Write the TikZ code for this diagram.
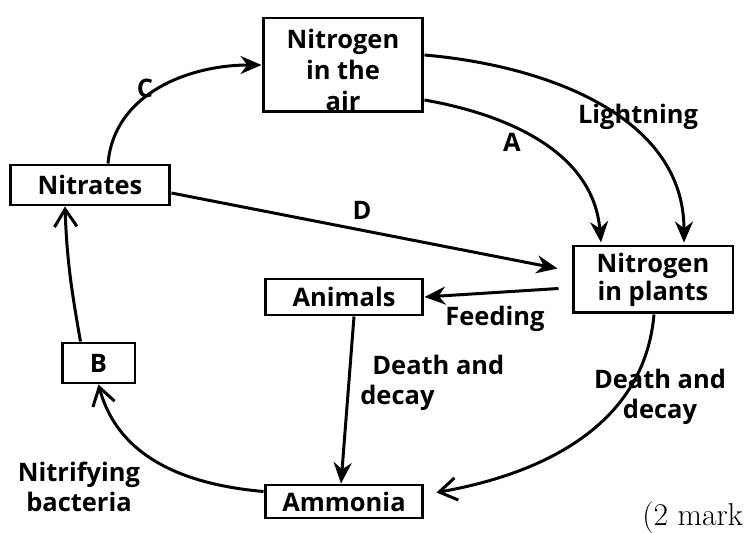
\documentclass[tikz,border=0pt]{standalone}
\usepackage{fontspec}
\newfontfamily\cyclefont{Open Sans}
\usepackage{tikz}
\usetikzlibrary{positioning, arrows.meta, calc}

\begin{document}
\begin{tikzpicture}[x=0.02cm, y=-0.02cm,
    box/.style={rectangle, draw, line width=1.7pt, inner sep=0pt, align=center,
        font=\cyclefont\bfseries\fontsize{14.5}{16}\selectfont},
    lbl/.style={align=center, inner sep=0pt,
        font=\cyclefont\bfseries\fontsize{14.5}{17}\selectfont},
    flow/.style={line width=1.7pt, -{Stealth[length=4.2mm, width=3.6mm]}},
    open/.style={line width=1.7pt, -{Straight Barb[length=3.5mm, width=4.5mm]}}]
    \useasboundingbox (0,0) rectangle (747,533);

    % boxes
    \node[box, minimum width=3.2cm, minimum height=1.88cm] (air) at (343,65)
        {\raisebox{-0.3cm}[0pt][0pt]{\begin{tabular}{@{}c@{}}Nitrogen\\[1.5pt]in the\\[1.5pt]air\end{tabular}}};
    \node[box, minimum width=3.2cm, minimum height=0.8cm] (nitrates) at (90,185) {Nitrates};
    \node[box, minimum width=3.2cm, minimum height=1.34cm] (plants) at (653,279.5) {Nitrogen\\in plants};
    \node[box, minimum width=3.16cm, minimum height=0.72cm] (animals) at (344,297) {Animals};
    \node[box, minimum width=1.46cm, minimum height=0.8cm] (b) at (98.5,363) {B};
    \node[box, minimum width=3.16cm, minimum height=0.66cm] (ammonia) at (344,501.5) {Ammonia};

    % arrows
    \draw[flow] ($(nitrates.north)+(18,0)$) to[out=85, in=180] (air.west);
    \draw[flow] ($(air.east)+(0,-10)$) to[out=-5, in=90] ($(plants.north)+(31,-2)$);
    \draw[flow] ($(air.east)+(0,35)$) to[out=-10, in=95] ($(plants.north)+(-52,-2)$);
    \draw[flow] ($(nitrates.east)+(0,8)$) -- ($(plants.west)+(-14,-11)$);
    \draw[flow] ($(plants.west)+(-13,9)$) -- (animals.east);
    \draw[flow] ($(animals.south)+(10,0)$) -- ($(ammonia.north)+(-3,0)$);
    \draw[open] ($(plants.south)+(1,0)$) to[out=-95, in=10] ($(ammonia.east)+(12,-9)$);
    \draw[open] ($(ammonia.west)+(0,-10)$) to[out=175, in=-75] (b.south);
    \draw[open] ($(b.north)+(-18,0)$) to[out=100, in=-88] ($(nitrates.south)+(-25,0)$);

    % labels
    \node[lbl] (lc) at (145,88) {C};
    \node[lbl] (la) at (512,142) {A};
    \node[lbl] (light) at (638,117) {Lightning};
    \node[lbl] (ld) at (362,210) {D};
    \node[lbl] (feed) at (495,319) {Feeding};
    \node[lbl, align=left, anchor=west] (decay1) at (360,383) {\hspace*{0.24cm}Death and\\decay};
    \node[lbl] (decay2) at (660,397) {Death and\\decay};
    \node[lbl] (nitrify) at (79,487) {Nitrifying\\bacteria};
    \node[anchor=base west, inner sep=0pt, font=\fontsize{18}{20}\selectfont] (marks) at (642,525) {(2 mark};
\end{tikzpicture}
\end{document}
